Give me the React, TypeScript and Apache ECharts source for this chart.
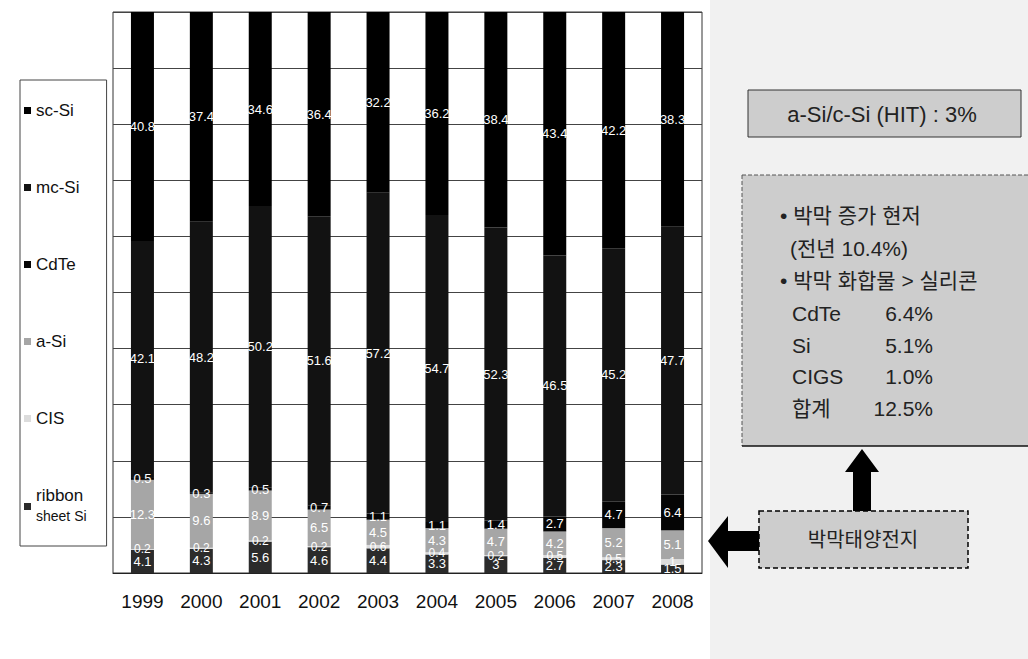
import React, { useEffect, useRef } from "react";
import * as echarts from "echarts";

// Market share of PV cell technologies (%), 1999–2008
const years = ["1999", "2000", "2001", "2002", "2003", "2004", "2005", "2006", "2007", "2008"];
const ribbonSheetSi = [4.1, 4.3, 5.6, 4.6, 4.4, 3.3, 3, 2.7, 2.3, 1.5];
const cis = [0.2, 0.2, 0.2, 0.2, 0.6, 0.4, 0.2, 0.5, 0.5, 1.0];
const aSi = [12.3, 9.6, 8.9, 6.5, 4.5, 4.3, 4.7, 4.2, 5.2, 5.1];
const cdTe = [0.5, 0.3, 0.5, 0.7, 1.1, 1.1, 1.4, 2.7, 4.7, 6.4];
const mcSi = [42.1, 48.2, 50.2, 51.6, 57.2, 54.7, 52.3, 46.5, 45.2, 47.7];
const scSi = [40.8, 37.4, 34.6, 36.4, 32.2, 36.2, 38.4, 43.4, 42.2, 38.3];

const seriesNames = ["ribbon sheet Si", "CIS", "a-Si", "CdTe", "mc-Si", "sc-Si"];
const seriesData = [ribbonSheetSi, cis, aSi, cdTe, mcSi, scSi];
const seriesColors = ["#2b2b2b", "#dcdcdc", "#a6a6a6", "#050505", "#121212", "#000000"];
const labelSizes = [13, 12, 13, 13, 13, 13];
const legendOrder = ["sc-Si", "mc-Si", "CdTe", "a-Si", "CIS", "ribbon sheet Si"];

const LATIN = "'Liberation Sans', Arial, sans-serif";
const KOREAN = "'Liberation Sans', 'Noto Sans CJK KR', sans-serif";

const BOX_FILL = "#cdcdcd";

export default function App() {
  const ref = useRef<HTMLDivElement>(null);

  useEffect(() => {
    if (!ref.current) return;
    const chart = echarts.init(ref.current, null, { renderer: "svg" });

    const series = seriesNames.map((name, i) => ({
      name,
      type: "bar",
      stack: "share",
      barWidth: 23,
      data: seriesData[i],
      itemStyle: { color: seriesColors[i] },
      label: {
        show: true,
        position: "inside",
        color: "#ffffff",
        fontSize: labelSizes[i],
        fontFamily: LATIN,
      },
      emphasis: { disabled: true },
    }));

    const boxText = (text: string, x: number, y: number, align = "left", size = 21) => ({
      type: "text",
      z: 20,
      x,
      y,
      style: {
        text,
        fill: "#222",
        font: `${size}px ${KOREAN}`,
        textAlign: align,
        textVerticalAlign: "middle",
      },
    });

    chart.setOption({
      animation: false,
      backgroundColor: "#ffffff",
      grid: {
        left: 113,
        right: 326,
        top: 12,
        bottom: 86,
        show: true,
        borderColor: "#333",
        borderWidth: 1,
      },
      legend: {
        data: legendOrder,
        orient: "vertical",
        left: 20,
        top: 80,
        padding: [21, 20, 19, 4],
        itemGap: 58,
        itemWidth: 7,
        itemHeight: 7,
        itemTextGap: 6,
        icon: "rect",
        borderColor: "#444",
        borderWidth: 1,
        selectedMode: false,
        formatter: (name: string) =>
          name === "ribbon sheet Si" ? "{a|ribbon}\n{b|sheet Si}" : name,
        textStyle: {
          fontSize: 17,
          lineHeight: 19,
          color: "#111",
          fontFamily: LATIN,
          rich: {
            a: { fontSize: 17, lineHeight: 19, color: "#111", fontFamily: LATIN },
            b: { fontSize: 14, lineHeight: 22, color: "#111", fontFamily: LATIN },
          },
        },
      },
      xAxis: {
        type: "category",
        data: years,
        axisLine: { lineStyle: { color: "#222", width: 1 } },
        axisTick: { inside: true, length: 6, lineStyle: { color: "#333" } },
        axisLabel: { fontSize: 19, color: "#111", margin: 19, fontFamily: LATIN },
      },
      yAxis: {
        type: "value",
        min: 0,
        max: 100,
        interval: 10,
        axisLabel: { show: false },
        axisLine: { show: false },
        axisTick: { show: false },
        splitLine: { lineStyle: { color: "#444", width: 1 } },
      },
      series,
      graphic: [
        // light halftone panel behind the notes
        { type: "rect", z: 0, shape: { x: 710, y: 0, width: 318, height: 659 }, style: { fill: "#f1f1f1" } },
        // HIT share box
        {
          type: "rect",
          z: 10,
          shape: { x: 748, y: 90, width: 273, height: 47 },
          style: { fill: BOX_FILL, stroke: "#333", lineWidth: 1 },
        },
        boxText("a-Si/c-Si (HIT) : 3%", 882, 114, "center", 22),
        // thin-film summary box
        { type: "rect", z: 10, shape: { x: 742, y: 175, width: 290, height: 271 }, style: { fill: BOX_FILL } },
        { type: "line", z: 11, shape: { x1: 742, y1: 175, x2: 1028, y2: 175 }, style: { stroke: "#555", lineWidth: 1, lineDash: [4, 2] } },
        { type: "line", z: 11, shape: { x1: 742, y1: 175, x2: 742, y2: 446 }, style: { stroke: "#555", lineWidth: 1, lineDash: [4, 2] } },
        { type: "line", z: 11, shape: { x1: 742, y1: 446, x2: 1028, y2: 446 }, style: { stroke: "#111", lineWidth: 1.5 } },
        boxText("• 박막 증가 현저", 780, 215),
        boxText("(전년 10.4%)", 790, 248),
        boxText("• 박막 화합물 > 실리콘", 780, 280),
        boxText("CdTe", 792, 313),
        boxText("6.4%", 933, 313, "right"),
        boxText("Si", 792, 345),
        boxText("5.1%", 933, 345, "right"),
        boxText("CIGS", 792, 376),
        boxText("1.0%", 933, 376, "right"),
        boxText("합계", 792, 408),
        boxText("12.5%", 933, 408, "right"),
        // arrow up to the summary
        {
          type: "polygon",
          z: 12,
          shape: {
            points: [
              [862, 449],
              [845, 472],
              [853, 472],
              [853, 511],
              [871, 511],
              [871, 472],
              [879, 472],
            ],
          },
          style: { fill: "#000" },
        },
        // arrow pointing at the thin-film segments
        {
          type: "polygon",
          z: 12,
          shape: {
            points: [
              [708, 541],
              [728, 516],
              [728, 531],
              [759, 531],
              [759, 551],
              [728, 551],
              [728, 568],
            ],
          },
          style: { fill: "#000" },
        },
        {
          type: "rect",
          z: 12,
          shape: { x: 759, y: 511, width: 209, height: 57 },
          style: { fill: BOX_FILL, stroke: "#000", lineWidth: 1.5, lineDash: [5, 3] },
        },
        boxText("박막태양전지", 863, 540, "center", 20),
      ],
    });

    return () => chart.dispose();
  }, []);

  return (
    <div
      ref={ref}
      style={{ position: "absolute", left: 0, top: 0, width: 1028, height: 659 }}
    />
  );
}
